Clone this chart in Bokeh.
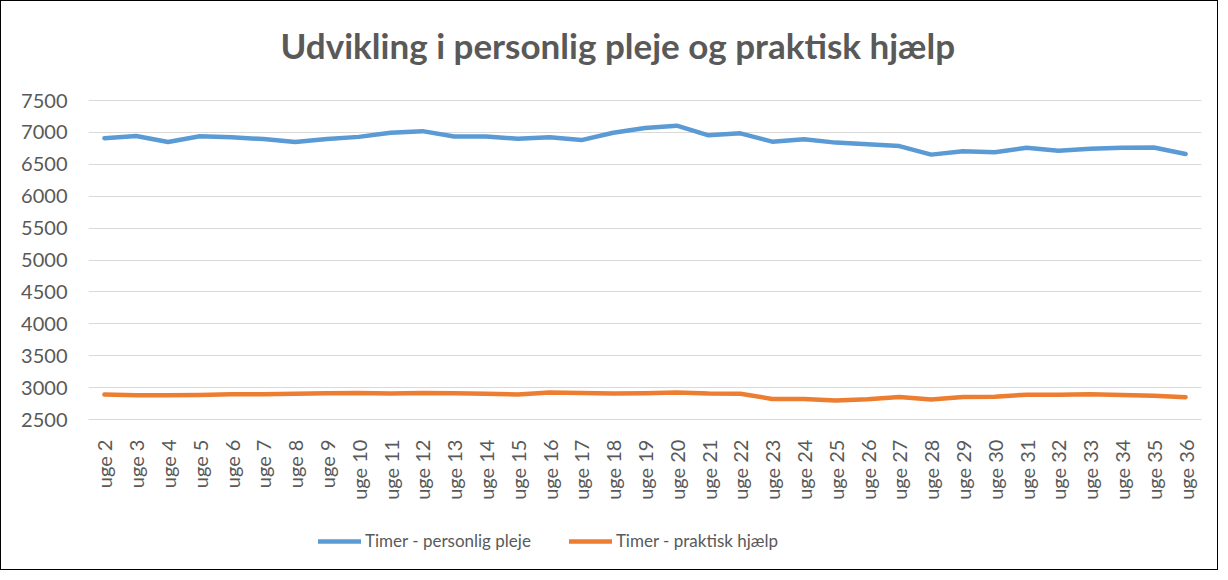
import math
from bokeh.plotting import figure
from bokeh.models import Range1d, FactorRange, Legend, LegendItem, FixedTicker, ColumnDataSource
from bokeh.embed import file_html
from bokeh.resources import INLINE

weeks = ["uge %d" % i for i in range(2, 37)]
personlig_pleje = [6910, 6945, 6850, 6940, 6925, 6895, 6850, 6895, 6930, 6995,
                   7020, 6935, 6935, 6900, 6925, 6880, 6995, 7070, 7105, 6955,
                   6985, 6855, 6893, 6840, 6813, 6786, 6652, 6706, 6690, 6759,
                   6711, 6743, 6759, 6764, 6662]
praktisk_hjaelp = [2891, 2882, 2882, 2886, 2895, 2897, 2905, 2910, 2915, 2906,
                   2915, 2910, 2904, 2893, 2925, 2915, 2906, 2911, 2925, 2906,
                   2904, 2823, 2823, 2800, 2818, 2852, 2812, 2852, 2856, 2890,
                   2890, 2898, 2885, 2873, 2849]
y_ticks = [2500, 3000, 3500, 4000, 4500, 5000, 5500, 6000, 6500, 7000, 7500]

src = ColumnDataSource(dict(x=weeks, a=personlig_pleje, b=praktisk_hjaelp))

FONT = "Lato"
GREY = "#595959"

# the frame extends beyond the 2500-7500 band to hold the category labels and legend
p = figure(width=1218, height=570, x_range=FactorRange(*weeks, range_padding=0),
           y_range=Range1d(118, 7892), output_backend="svg", toolbar_location=None,
           title="Udvikling i personlig pleje og praktisk hjælp")
p.styles = {"border": "1px solid black"}
p.title.align = "left"
p.title.text_font = FONT
p.title.text_font_size = "35px"
p.title.text_font_style = "bold"
p.title.text_color = GREY
p.title.offset = 192
p.title.standoff = 20

p.min_border_left = 87
p.min_border_right = 18
p.min_border_top = 74
p.min_border_bottom = 0
p.outline_line_color = None

r1 = p.line("x", "a", source=src, line_color="#5B9BD5", line_width=4.5, line_cap="round", line_join="round")
r2 = p.line("x", "b", source=src, line_color="#ED7D31", line_width=4.5, line_cap="round", line_join="round")

p.yaxis.ticker = FixedTicker(ticks=y_ticks)
p.yaxis.axis_line_color = None
p.yaxis.major_tick_line_color = None
p.yaxis.minor_tick_line_color = None
p.yaxis.major_label_text_font = FONT
p.yaxis.major_label_text_font_size = "20px"
p.yaxis.major_label_text_color = GREY
p.yaxis.major_label_standoff = 15

p.xaxis.fixed_location = y_ticks[0]
p.xaxis.axis_line_color = "#d9d9d9"
p.xaxis.major_tick_line_color = None
p.xaxis.major_label_orientation = math.pi / 2
p.xaxis.major_label_text_font = FONT
p.xaxis.major_label_text_font_size = "20px"
p.xaxis.major_label_text_color = GREY
p.xaxis.major_label_standoff = 14

p.xgrid.grid_line_color = None
p.ygrid.grid_line_color = "#d9d9d9"
p.ygrid.grid_line_width = 1

legend = Legend(items=[LegendItem(label="Timer - personlig pleje", renderers=[r1]),
                       LegendItem(label="Timer - praktisk hjælp", renderers=[r2])],
                orientation="horizontal", location=(230, 20),
                label_text_font=FONT, label_text_font_size="17px", label_text_color=GREY,
                glyph_width=43, label_standoff=4, spacing=38, border_line_color=None,
                background_fill_alpha=0, margin=0, padding=0)
p.add_layout(legend, "center")

open("out.html", "w").write(file_html(p, INLINE))
